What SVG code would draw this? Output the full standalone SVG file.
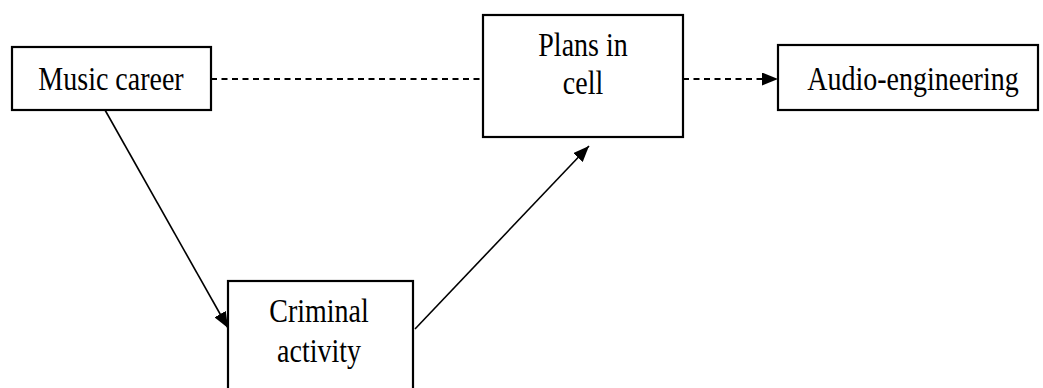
<svg xmlns="http://www.w3.org/2000/svg" width="1043" height="388" viewBox="0 0 1043 388">
  <style>
    .box { fill: #ffffff; stroke: #000000; stroke-width: 2.2; }
    .label { font-family: "Liberation Serif", "Times New Roman", serif; font-size: 28px; fill: #000000; text-anchor: middle; }
    .link { fill: none; stroke: #000000; stroke-width: 1.6; }
    .dashed { stroke-dasharray: 6 4.5; stroke-width: 2; }
  </style>
  <defs>
    <marker id="arrow" markerUnits="userSpaceOnUse" markerWidth="17" markerHeight="13" refX="16" refY="6.5" orient="auto">
      <path d="M0,0 L16,6.5 L0,13 Z" fill="#000000"/>
    </marker>
  </defs>
  <rect width="1043" height="388" fill="#ffffff"/>

  <g id="connectors">
    <line class="link dashed" x1="211" y1="79" x2="483" y2="79"/>
    <line class="link dashed" x1="683" y1="79" x2="778" y2="79" marker-end="url(#arrow)"/>
    <line class="link" x1="105" y1="110" x2="228" y2="328" marker-end="url(#arrow)"/>
    <line class="link" x1="415" y1="329" x2="589" y2="146" marker-end="url(#arrow)"/>
  </g>

  <!-- labels are set in a narrow serif, stretched vertically -->
  <g id="music-career">
    <rect class="box" x="12" y="47" width="199" height="63"/>
    <text class="label" transform="translate(111 90) scale(1 1.2)">Music career</text>
  </g>

  <g id="plans-in-cell">
    <rect class="box" x="483" y="15" width="200" height="122"/>
    <text class="label" transform="translate(583 56) scale(1 1.2)">Plans in</text>
    <text class="label" transform="translate(583 94) scale(1 1.2)">cell</text>
  </g>

  <g id="audio-engineering">
    <rect class="box" x="778" y="45" width="260" height="65"/>
    <text class="label" transform="translate(913 90) scale(1 1.2)">Audio-engineering</text>
  </g>

  <g id="criminal-activity">
    <rect class="box" x="228" y="281" width="185" height="130"/>
    <text class="label" transform="translate(319 322) scale(1 1.2)">Criminal</text>
    <text class="label" transform="translate(319 362) scale(1 1.2)">activity</text>
  </g>
</svg>
